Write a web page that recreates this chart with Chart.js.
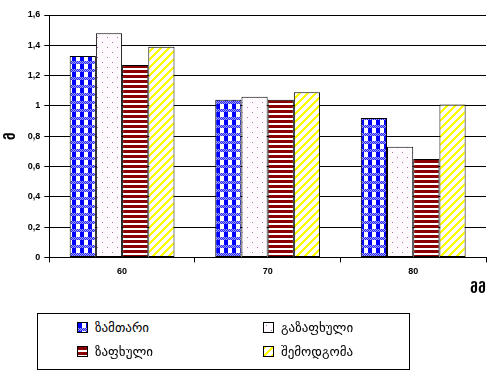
<!DOCTYPE html>
<html><head><meta charset="utf-8">
<script src="https://cdn.jsdelivr.net/npm/chart.js@4"></script>
<style>
html,body{margin:0;padding:0;background:#fff;}
#wrap{position:relative;width:500px;height:376px;}
#legend{position:absolute;left:37px;top:313px;width:373px;height:57px;border:1px solid #000;box-sizing:border-box;background:#fff;}
.item{position:absolute;display:flex;align-items:center;font:13px "DejaVu Sans";color:#000;}
.item canvas{border:1px solid #000;box-sizing:border-box;margin-right:7px;}
</style></head><body>
<div id="wrap"><canvas id="c" width="500" height="376"></canvas><div id="legend"></div></div>
<script>
const categories = ['60', '70', '80'];
const seriesNames = ['ზამთარი', 'გაზაფხული', 'ზაფხული', 'შემოდგომა'];
const winter = [1.33, 1.04, 0.92];
const spring = [1.48, 1.06, 0.73];
const summer = [1.27, 1.04, 0.65];
const autumn = [1.39, 1.09, 1.01];
const yTickValues = [0, 0.2, 0.4, 0.6, 0.8, 1, 1.2, 1.4, 1.6];
const yTitle = 'მ';
const xTitle = 'მმ';

function tile(w, h, draw) {
  const c = document.createElement('canvas'); c.width = w; c.height = h;
  const g = c.getContext('2d'); draw(g, w, h); return c;
}
const tiles = [
  tile(8, 8, (g) => { // blue check
    g.fillStyle = '#fff'; g.fillRect(0, 0, 8, 8);
    g.fillStyle = '#0000ff'; g.fillRect(0, 0, 4, 8);
    for (let y = 5; y < 8; y++) for (let x = 0; x < 8; x++) {
      g.fillStyle = ((x + y) % 2 === 0) ? '#2020ff' : '#a8a8f0'; g.fillRect(x, y, 1, 1);
    }
  }),
  tile(10, 10, (g) => { // pink dots
    g.fillStyle = '#fffafe'; g.fillRect(0, 0, 10, 10);
    g.fillStyle = '#b070b0'; g.fillRect(2, 2, 1, 1); g.fillRect(7, 7, 1, 1);
  }),
  tile(4, 5, (g) => { // red stripes
    g.fillStyle = '#fff'; g.fillRect(0, 0, 4, 5);
    g.fillStyle = '#8b0000'; g.fillRect(0, 0, 4, 3);
  }),
  tile(8, 8, (g) => { // yellow diagonal
    g.fillStyle = '#fff'; g.fillRect(0, 0, 8, 8);
    g.fillStyle = '#ffff00';
    for (let y = 0; y < 8; y++) for (let k = 0; k < 3; k++) {
      g.fillRect(((7 - y) + k + 8) % 8, y, 1, 1);
    }
  })
];
const ctx = document.getElementById('c').getContext('2d');
const patterns = tiles.map(t => ctx.createPattern(t, 'repeat'));
const seriesValues = [winter, spring, summer, autumn];

new Chart(ctx, {
  type: 'bar',
  data: {
    labels: categories,
    datasets: seriesNames.map((n, i) => ({
      label: n, data: seriesValues[i], backgroundColor: patterns[i],
      borderColor: '#000', borderWidth: 1, borderSkipped: false,
      categoryPercentage: 0.72, barPercentage: 1
    }))
  },
  options: {
    responsive: false, animation: false, devicePixelRatio: 1,
    layout: { padding: { left: 3, top: 15, right: 14, bottom: 78 } },
    plugins: { legend: { display: false }, tooltip: { enabled: false } },
    scales: {
      y: {
        min: 0, max: 1.6,
        afterBuildTicks: (s) => { s.ticks = yTickValues.map(v => ({ value: v })); },
        ticks: { color: '#000', font: { family: 'Liberation Sans', size: 9, weight: 'bold' }, padding: 4,
          callback: (v) => String(Math.round(v * 10) / 10).replace('.', ',') },
        grid: { color: '#000', lineWidth: 1, tickLength: 5 },
        border: { color: '#000', width: 1 },
        title: { display: true, text: yTitle, color: '#000', font: { family: 'DejaVu Sans', size: 14, weight: 'bold' }, padding: { top: 0, bottom: 4 } }
      },
      x: {
        ticks: { color: '#000', font: { family: 'Liberation Sans', size: 9, weight: 'bold' }, padding: 4 },
        grid: { offset: true, drawOnChartArea: false, color: '#000', tickLength: 5 },
        border: { color: '#000', width: 1 },
        title: { display: true, text: xTitle, align: 'end', color: '#000', font: { family: 'DejaVu Sans', size: 14, weight: 'bold' }, padding: { top: 0, bottom: 0 } }
      }
    }
  }
});

const legend = document.getElementById('legend');
seriesNames.forEach((n, i) => {
  const d = document.createElement('div'); d.className = 'item';
  d.style.left = (i % 2 === 0 ? 39 : 225) + 'px';
  d.style.top = (i < 2 ? 6 : 30) + 'px';
  const m = document.createElement('canvas'); m.width = 9; m.height = 9;
  const g = m.getContext('2d'); g.fillStyle = g.createPattern(tiles[i], 'repeat'); g.fillRect(0, 0, 9, 9);
  d.appendChild(m);
  const s = document.createElement('span'); s.textContent = n; d.appendChild(s);
  legend.appendChild(d);
});
</script>
</body></html>
